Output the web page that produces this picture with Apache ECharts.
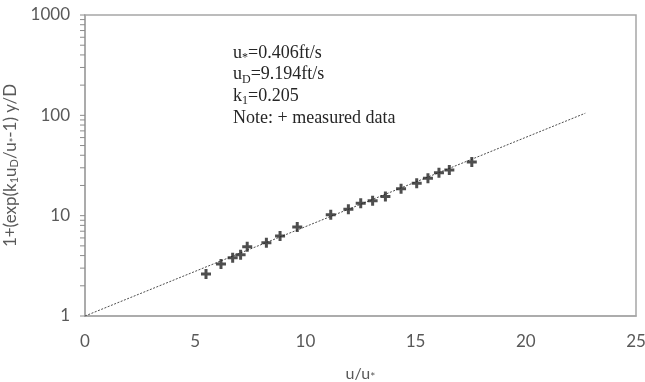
<!DOCTYPE html>
<html>
<head>
<meta charset="utf-8">
<script src="https://cdn.jsdelivr.net/npm/echarts@6/dist/echarts.min.js"></script>
<style>
  html, body { margin: 0; padding: 0; background: #fff; }
  #chart { width: 645px; height: 382px; }
</style>
</head>
<body>
<div id="chart"></div>
<script>
// Measured points: u/u* against 1+(exp(k1 uD/u* - 1)) y/D
var measuredX = [5.49, 6.17, 6.70, 7.06, 7.36, 8.23, 8.85, 9.63, 11.15, 11.95,
                 12.51, 13.05, 13.63, 14.34, 15.05, 15.56, 16.06, 16.53, 17.55];
var measuredY = [2.62, 3.30, 3.81, 4.08, 4.91, 5.38, 6.28, 7.71, 10.2, 11.6,
                 13.3, 14.1, 15.5, 18.5, 21.0, 23.6, 26.7, 28.6, 34.3];

// Fitted line end points
var fitX = [0, 22.7];
var fitY = [1, 105];

// Axis ticks
var xTicks = [0, 5, 10, 15, 20, 25];
var yDecades = [1, 10, 100, 1000];

// Log ticks at 1..9 of every decade
var yTickValues = [];
for (var d = 0; d < yDecades.length - 1; d++) {
  for (var m = 1; m < 10; m++) yTickValues.push(yDecades[d] * m);
}
yTickValues.push(yDecades[yDecades.length - 1]);

var measured = measuredX.map(function (x, i) { return [x, measuredY[i]]; });
var fit = fitX.map(function (x, i) { return [x, fitY[i]]; });

var axisGray = '#a6a6a6';
var tickGray = '#8c8c8c';
var labelGray = '#595959';
var sansFont = 'Lato, "Open Sans", sans-serif';
var serifFont = '"Liberation Serif", "DejaVu Serif", serif';
var plusPath = 'path://M3.5,0h3v3.5h3.5v3h-3.5v3.5h-3v-3.5h-3.5v-3h3.5z';

var chart = echarts.init(document.getElementById('chart'), null, { renderer: 'canvas' });

chart.setOption({
  animation: false,
  backgroundColor: '#ffffff',
  grid: {
    left: 85, right: 9, top: 15, bottom: 66,
    outerBoundsMode: 'none',
    containLabel: false,
    show: true, borderColor: axisGray, borderWidth: 1.5, backgroundColor: 'transparent'
  },
  xAxis: {
    type: 'value',
    min: xTicks[0], max: xTicks[xTicks.length - 1], interval: 5,
    name: 'u/u{sub|*}',
    nameLocation: 'middle',
    nameGap: 49,
    nameTextStyle: {
      fontFamily: sansFont, fontSize: 16, color: labelGray,
      rich: { sub: { fontFamily: sansFont, fontSize: 12, color: labelGray, verticalAlign: 'bottom', padding: [6, 0, 0, 0] } }
    },
    axisLine: { show: true, lineStyle: { color: axisGray, width: 1.5 } },
    axisTick: { show: false },
    splitLine: { show: false },
    axisLabel: { margin: 17, fontFamily: sansFont, fontSize: 17, color: labelGray }
  },
  yAxis: {
    type: 'log',
    logBase: 10,
    min: yDecades[0], max: yDecades[yDecades.length - 1],
    name: '1+(exp(k{sub|1}u{sub|D}/u{sub|*}-1) y/D',
    nameLocation: 'middle',
    nameRotate: 90,
    nameGap: 62,
    nameTextStyle: {
      fontFamily: sansFont, fontSize: 17, color: labelGray,
      rich: { sub: { fontFamily: sansFont, fontSize: 11, color: labelGray, verticalAlign: 'bottom', padding: [7, 0, 0, 0] } }
    },
    axisLine: { show: true, lineStyle: { color: axisGray, width: 1.5 } },
    axisTick: { show: false },
    splitLine: { show: false },
    minorTick: { show: false },
    axisLabel: {
      margin: 15, fontFamily: sansFont, fontSize: 17, color: labelGray,
      formatter: function (v) { return String(v); }
    }
  },
  series: [
    {
      // log tick marks (1..9 per decade) on the left of the y axis
      name: 'yTicks',
      type: 'custom',
      silent: true,
      clip: false,
      data: yTickValues.map(function (v) { return [xTicks[0], v]; }),
      renderItem: function (params, api) {
        var p = api.coord([api.value(0), api.value(1)]);
        return {
          type: 'line',
          shape: { x1: p[0] - 5, y1: p[1], x2: p[0], y2: p[1] },
          style: { stroke: tickGray, lineWidth: 1 }
        };
      },
      z: 1
    },
    {
      name: 'fit',
      type: 'line',
      data: fit,
      showSymbol: false,
      symbol: 'none',
      lineStyle: { color: '#4d4d4d', width: 1, type: [2, 1.5] },
      z: 2
    },
    {
      name: 'measured',
      type: 'scatter',
      data: measured,
      symbol: plusPath,
      symbolSize: 10,
      itemStyle: { color: '#222222' },
      z: 3
    }
  ],
  graphic: [
    {
      type: 'text',
      left: 233,
      top: 42,
      style: {
        text: 'u{sub|*}=0.406ft/s\nu{sub|D}=9.194ft/s\nk{sub|1}=0.205\nNote: + measured data',
        fontFamily: serifFont,
        fontSize: 18,
        lineHeight: 21.7,
        fill: '#262626',
        rich: {
          sub: { fontFamily: serifFont, fontSize: 12, fill: '#262626', verticalAlign: 'bottom', padding: [8, 0, 0, 0] }
        }
      }
    }
  ]
});
</script>
</body>
</html>
